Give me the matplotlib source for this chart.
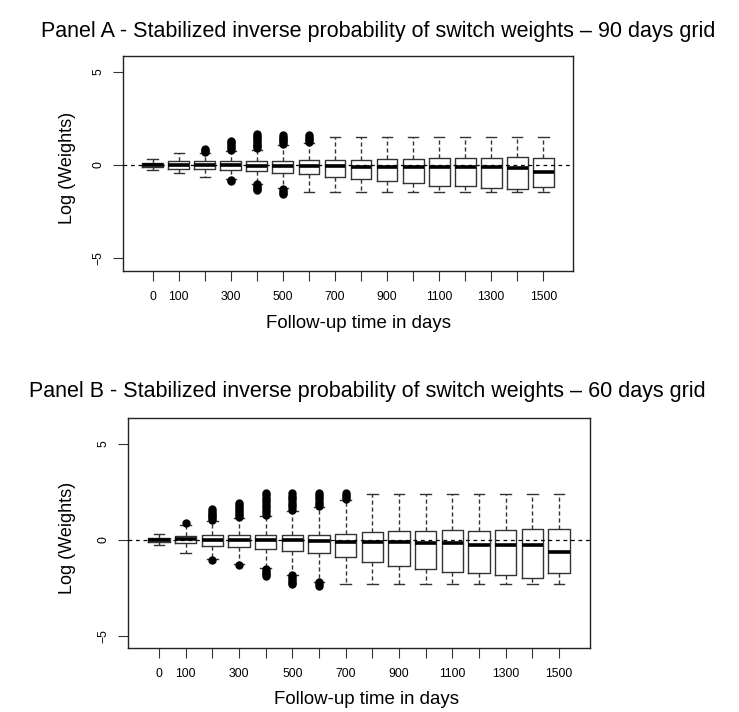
import matplotlib
matplotlib.use("Agg")
import matplotlib.pyplot as plt

plt.rcParams['font.family'] = ['Liberation Sans', 'DejaVu Sans']

# ---------------- data ----------------
days = [0, 100, 200, 300, 400, 500, 600, 700, 800, 900, 1000, 1100, 1200, 1300, 1400, 1500]
xtick_labels = ['0', '100', '', '300', '', '500', '', '700', '', '900', '', '1100', '', '1300', '', '1500']

titleA = "Panel A - Stabilized inverse probability of switch weights \u2013 90 days grid"
titleB = "Panel B - Stabilized inverse probability of switch weights \u2013 60 days grid"
xlab = "Follow-up time in days"
ylab = "Log (Weights)"

# Panel A (90 days grid)
A_q1 = [-0.13, -0.20, -0.21, -0.27, -0.32, -0.45, -0.51, -0.63, -0.75, -0.86, -0.99, -1.12, -1.12, -1.22, -1.31, -1.18]
A_med = [0.00, 0.00, 0.00, 0.00, -0.05, -0.05, -0.04, -0.05, -0.09, -0.10, -0.09, -0.09, -0.09, -0.09, -0.18, -0.40]
A_q3 = [0.13, 0.20, 0.20, 0.20, 0.20, 0.20, 0.25, 0.25, 0.27, 0.30, 0.30, 0.38, 0.38, 0.38, 0.44, 0.38]
A_whislo = [-0.27, -0.41, -0.66, -0.74, -1.00, -1.25, -1.45, -1.45, -1.45, -1.45, -1.45, -1.45, -1.45, -1.45, -1.45, -1.45]
A_whishi = [0.30, 0.63, 0.62, 0.74, 0.82, 1.07, 1.16, 1.52, 1.52, 1.52, 1.52, 1.52, 1.52, 1.52, 1.52, 1.52]
A_fliers = [
    [], [],
    [0.72, 0.78, 0.84],
    [0.82, 0.92, 1.02, 1.12, 1.22, 1.28, -0.80, -0.88],
    [0.90, 1.00, 1.10, 1.20, 1.30, 1.40, 1.50, 1.58, 1.64, -1.04, -1.12, -1.20, -1.28, -1.36],
    [1.12, 1.22, 1.32, 1.42, 1.52, 1.62, -1.30, -1.40, -1.50, -1.56],
    [1.22, 1.32, 1.42, 1.52, 1.62],
    [], [], [], [], [], [], [], [], [],
]

# Panel B (60 days grid)
B_q1 = [-0.12, -0.17, -0.30, -0.36, -0.47, -0.59, -0.70, -0.91, -1.13, -1.34, -1.51, -1.68, -1.74, -1.82, -1.99, -1.74]
B_med = [0.00, 0.05, -0.02, -0.02, -0.03, -0.03, -0.07, -0.09, -0.09, -0.09, -0.17, -0.17, -0.24, -0.24, -0.24, -0.64]
B_q3 = [0.12, 0.19, 0.26, 0.26, 0.26, 0.26, 0.26, 0.33, 0.40, 0.45, 0.45, 0.52, 0.45, 0.52, 0.57, 0.57]
B_whislo = [-0.24, -0.69, -0.99, -1.25, -1.46, -1.82, -2.17, -2.29, -2.29, -2.29, -2.29, -2.29, -2.29, -2.29, -2.29, -2.29]
B_whishi = [0.33, 0.80, 0.97, 1.15, 1.27, 1.53, 1.70, 2.10, 2.40, 2.40, 2.40, 2.40, 2.40, 2.40, 2.40, 2.40]
B_fliers = [
    [],
    [0.88],
    [1.02, 1.12, 1.22, 1.32, 1.42, 1.52, 1.60, -1.06],
    [1.20, 1.30, 1.40, 1.50, 1.60, 1.70, 1.80, 1.90, -1.30],
    [1.32, 1.45, 1.58, 1.70, 1.82, 1.95, 2.08, 2.20, 2.32, 2.43, -1.50, -1.60, -1.70, -1.80, -1.90],
    [1.58, 1.70, 1.82, 1.94, 2.06, 2.18, 2.30, 2.43, -1.85, -1.95, -2.05, -2.15, -2.25, -2.30],
    [1.76, 1.88, 2.00, 2.12, 2.24, 2.36, 2.43, -2.20, -2.30, -2.38],
    [2.14, 2.25, 2.36, 2.43],
    [], [], [], [], [], [], [], [],
]

# ---------------- figure ----------------
W, H = 739, 712
fig = plt.figure(figsize=(W / 100, H / 100), dpi=100)


def fx(px):
    return px / W


def fy(py):
    return 1 - py / H


def panel(rect, q1, med, q3, lo, hi, fl, ylim, xlim):
    ax = fig.add_axes(rect)
    stats = []
    for i in range(len(days)):
        stats.append(dict(q1=q1[i], med=med[i], q3=q3[i], whislo=lo[i], whishi=hi[i], fliers=fl[i]))
    ax.bxp(stats, positions=days, widths=80, capwidths=40, showfliers=True,
           boxprops=dict(color='#333333', linewidth=1.0),
           medianprops=dict(color='black', linewidth=2.6, solid_capstyle='butt'),
           whiskerprops=dict(color='#333333', linewidth=1.0, linestyle=(0, (3, 2))),
           capprops=dict(color='#333333', linewidth=1.0),
           flierprops=dict(marker='o', markerfacecolor='black', markeredgecolor='black',
                           markersize=5, linestyle='none'),
           manage_ticks=False)
    ax.axhline(0, color='black', linewidth=0.9, linestyle=(0, (3, 3)), zorder=5)
    ax.set_xlim(*xlim)
    ax.set_ylim(*ylim)
    ax.set_xticks(days)
    ax.set_xticklabels(xtick_labels, fontsize=8.8)
    ax.set_yticks([-5, 0, 5])
    ax.set_yticklabels(['\u22125', '0', '5'], fontsize=8.8, rotation=90, va='center')
    ax.tick_params(axis='x', direction='out', length=7, width=0.8, color='#333333', pad=7.5)
    ax.tick_params(axis='y', direction='out', length=7, width=0.8, color='#333333', pad=6.5)
    for s in ax.spines.values():
        s.set_linewidth(1.0)
        s.set_color('#222222')
    return ax


# Panel A
axA = panel([fx(123), fy(271), fx(573) - fx(123), fy(56) - fy(271)],
            A_q1, A_med, A_q3, A_whislo, A_whishi, A_fliers,
            ylim=(-5.70, 5.86), xlim=(-114, 1614))
fig.text(fx(378), fy(32), titleA, ha='center', va='center', fontsize=15.5)
fig.text(fx(359), fy(324), xlab, ha='center', va='center', fontsize=13.4)
fig.text(fx(68), fy(168), ylab, ha='center', va='center', fontsize=13, rotation=90)

# Panel B
axB = panel([fx(128), fy(648), fx(589.5) - fx(128), fy(418) - fy(648)],
            B_q1, B_med, B_q3, B_whislo, B_whishi, B_fliers,
            ylim=(-5.63, 6.35), xlim=(-116, 1614))
fig.text(fx(367), fy(392), titleB, ha='center', va='center', fontsize=15.5)
fig.text(fx(366), fy(700), xlab, ha='center', va='center', fontsize=13.4)
fig.text(fx(68), fy(538), ylab, ha='center', va='center', fontsize=13, rotation=90)

fig.savefig("out.png", dpi=100)
